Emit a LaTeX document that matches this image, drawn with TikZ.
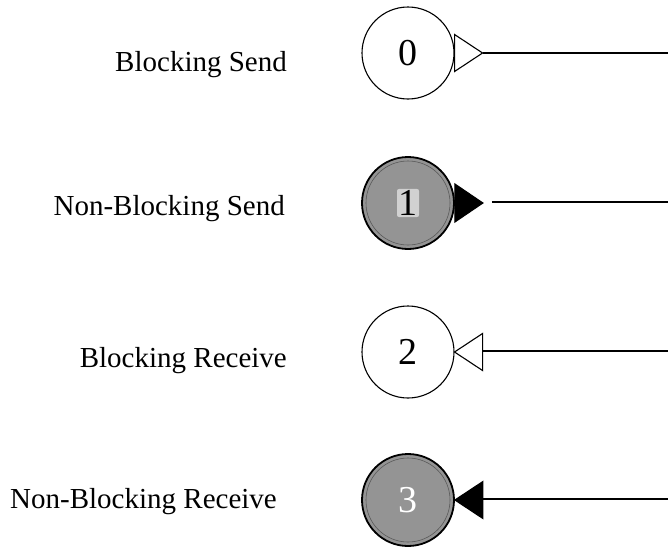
\documentclass[tikz,border=0pt]{standalone}
\usepackage{fontspec}
\setmainfont{Liberation Serif}
\begin{document}
\begin{tikzpicture}[x=1pt,y=-1pt,
  lbl/.style={anchor=base east,inner sep=0pt,font=\fontsize{29}{30}\selectfont},
  digit/.style={font=\fontsize{38}{40}\selectfont},
  proc/.style={circle,draw=black,line width=1.1pt,minimum size=92pt,inner sep=0pt,digit},
  nbproc/.style={proc,fill=black!42,line width=1.8pt},
  wire/.style={line width=1.1pt},
  hollowtri/.style={draw=black,fill=white,line width=1.1pt,line join=miter},
  solidtri/.style={draw=black,fill=black,line width=1.1pt,line join=miter}]
\useasboundingbox (0,0) rectangle (669,549);

% labels
\node[lbl] (l0) at (287,71) {Blocking Send};
\node[lbl] (l1) at (285,215) {Non-Blocking Send};
\node[lbl] (l2) at (287,367) {Blocking Receive};
\node[lbl] (l3) at (277,508) {Non-Blocking Receive};

% processes
\node[proc] (c0) at (408,53) {0};
\node[nbproc] (c1) at (408,203) {};
\node[proc] (c2) at (408,352) {2};
\node[nbproc] (c3) at (408,500) {};

% inner rings of the shaded processes
\draw[black!65,line width=0.6pt] (c1.center) circle (42);
\draw[black!65,line width=0.6pt] (c3.center) circle (42);

% digits of the shaded processes
\node[digit,fill=black!18,rounded corners=2pt,inner sep=1.5pt] (n1) at (c1.center) {1};
\node[digit,text=white,inner sep=0pt] (n3) at (c3.center) {3};

% line ends at the right margin
\coordinate (e0) at (668,53);
\coordinate (e1) at (668,202);
\coordinate (e2) at (668,351);
\coordinate (e3) at (668,499);

% blocking send: open triangle pointing out
\draw[hollowtri] ([shift={(0,-18.5)}]c0.east) -- ++(28,18.5) coordinate (t0) -- ++(-28,18.5) -- cycle;
\draw[wire] (t0) -- (e0);

% non-blocking send: solid triangle pointing out, gap before the line
\draw[solidtri] ([shift={(0,-19)}]c1.east) -- ++(28,19) coordinate (t1) -- ++(-28,19) -- cycle;
\coordinate (s1) at ([shift={(9,0)}]t1);
\draw[wire] (s1 |- e1) -- (e1);

% blocking receive: open triangle pointing in
\draw[hollowtri] (c2.east) -- ++(28,-18.5) -- ++(0,37) -- cycle;
\coordinate (t2) at ([shift={(28,0)}]c2.east);
\draw[wire] (t2 |- e2) -- (e2);

% non-blocking receive: solid triangle pointing in
\draw[solidtri] (c3.east) -- ++(28,-18.5) -- ++(0,37) -- cycle;
\coordinate (t3) at ([shift={(28,0)}]c3.east);
\draw[wire] (t3 |- e3) -- (e3);
\end{tikzpicture}
\end{document}
